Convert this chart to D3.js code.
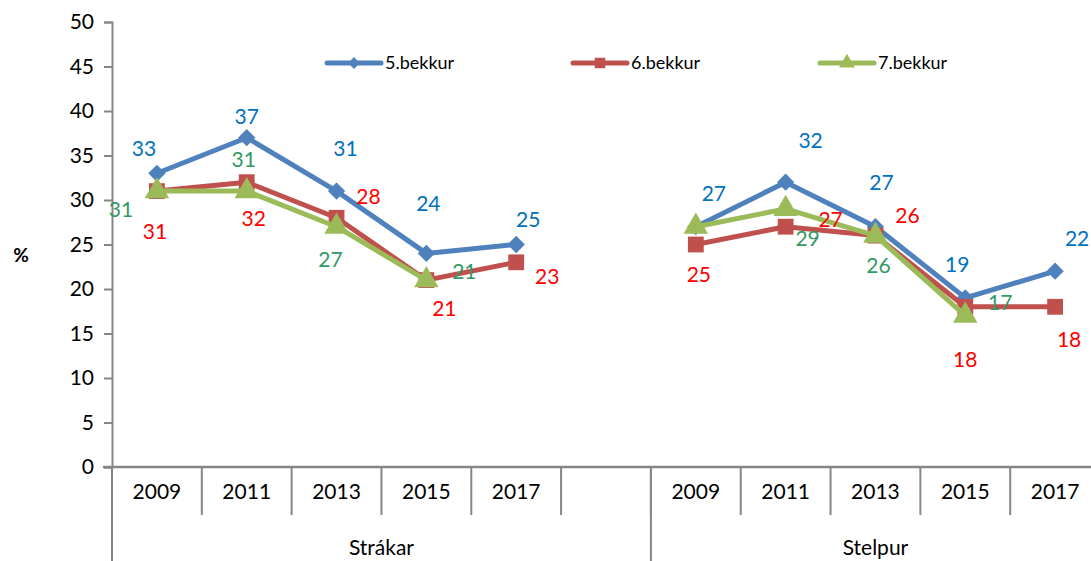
<!DOCTYPE html>
<html>
<head>
<meta charset="utf-8">
<script src="https://cdn.jsdelivr.net/npm/d3@7"></script>
<style>
  body { margin: 0; background: #fff; }
  svg { display: block; font-family: Lato, "Open Sans", sans-serif; }
</style>
</head>
<body>
<script>
// categories: 11 slots, one empty slot between the two groups
var years = ["2009", "2011", "2013", "2015", "2017", "", "2009", "2011", "2013", "2015", "2017"];
var groups = ["Strákar", "Stelpur"];
var groupSpans = [6, 5];

// series values (null = no point)
var bekkur5 = [33, 37, 31, 24, 25, null, 27, 32, 27, 19, 22];
var bekkur6 = [31, 32, 28, 21, 23, null, 25, 27, 26, 18, 18];
var bekkur7 = [31, 31, 27, 21, null, null, 27, 29, 26, 17, null];
var seriesNames = ["5.bekkur", "6.bekkur", "7.bekkur"];
var yTicks = [0, 5, 10, 15, 20, 25, 30, 35, 40, 45, 50];

// label nudges (px) for the hand placed Excel data labels, null = no label shown
var off5 = [[-13,-25],[0,-21],[9,-43],[2,-50],[12,-25],null,[18,-33],[25,-42],[6,-44],[-8,-33],[22,-33]];
var off6 = [[-2,40],[7,36],[32,-21],[18,28],[31,14],null,[3,30],[45,-7],[32,-20],[0,53],[14,33]];
var off7 = [[-36,18],[-3,-32],[-6,33],[38,-9],null,null,null,[22,30],[3,30],[35,-13],null];

var W = 1091, H = 561;
var margin = {left: 112, top: 22, bottom: 94};
var plotRight = 1100;   // last category runs past the picture edge
var y0 = H - margin.bottom;

var svg = d3.select("body").append("svg")
    .attr("width", W)
    .attr("height", H);

var x = d3.scaleBand()
    .domain(d3.range(years.length))
    .range([margin.left, plotRight]);

var y = d3.scaleLinear()
    .domain([0, 50])
    .range([y0, margin.top]);

var axisCol = "#868686";

// y axis
var yAxis = d3.axisLeft(y).tickValues(yTicks).tickSize(8).tickPadding(10);
var gy = svg.append("g")
    .attr("transform", "translate(" + margin.left + ",0)")
    .call(yAxis);
gy.select(".domain").attr("stroke", axisCol).attr("stroke-width", 2);
gy.selectAll(".tick line").attr("stroke", axisCol).attr("stroke-width", 2);
gy.selectAll(".tick text")
    .attr("font-size", "21px")
    .attr("fill", "#000")
    .attr("font-family", "Lato, sans-serif");

// x axis line
svg.append("line")
    .attr("x1", margin.left - 9).attr("x2", W)
    .attr("y1", y0).attr("y2", y0)
    .attr("stroke", axisCol).attr("stroke-width", 2.5);

// year dividers + labels
var bw = x.bandwidth();
svg.selectAll(".ydiv")
    .data(d3.range(1, years.length))
    .enter().append("line")
    .attr("x1", function(i) { return x(i); })
    .attr("x2", function(i) { return x(i); })
    .attr("y1", y0)
    .attr("y2", y0 + 48)
    .attr("stroke", axisCol).attr("stroke-width", 2);

svg.selectAll(".yearLabel")
    .data(years)
    .enter().append("text")
    .attr("x", function(d, i) { return x(i) + bw / 2; })
    .attr("y", y0 + 32)
    .attr("text-anchor", "middle")
    .attr("font-size", "21px")
    .text(function(d) { return d; });

// group dividers + labels
var starts = [0, groupSpans[0]];
svg.selectAll(".gdiv")
    .data(starts)
    .enter().append("line")
    .attr("x1", function(s) { return x(s); })
    .attr("x2", function(s) { return x(s); })
    .attr("y1", y0)
    .attr("y2", H)
    .attr("stroke", axisCol).attr("stroke-width", 2);

svg.selectAll(".groupLabel")
    .data(groups)
    .enter().append("text")
    .attr("x", function(d, i) { return x(starts[i]) + groupSpans[i] * bw / 2; })
    .attr("y", y0 + 88)
    .attr("text-anchor", "middle")
    .attr("font-size", "21px")
    .text(function(d) { return d; });

// % title
svg.append("text")
    .attr("x", 21).attr("y", 262)
    .attr("text-anchor", "middle")
    .attr("font-size", "19px")
    .attr("font-weight", "bold")
    .text("%");

var series = [
  {name: seriesNames[0], values: bekkur5, off: off5, color: "#4F81BD", label: "#0070C0", shape: "diamond"},
  {name: seriesNames[1], values: bekkur6, off: off6, color: "#C0504D", label: "#FF0000", shape: "square"},
  {name: seriesNames[2], values: bekkur7, off: off7, color: "#9BBB59", label: "#339966", shape: "triangle"}
];

// diamond = square turned 45 degrees, like the Excel marker
function markerPath(shape, size) {
  var t = shape === "triangle" ? d3.symbolTriangle : d3.symbolSquare;
  return d3.symbol().type(t).size(size)();
}
var markerSize = {diamond: 150, square: 250, triangle: 260};
var markerRot = {diamond: 45, square: 0, triangle: 0};

var line = d3.line()
    .defined(function(d) { return d != null; })
    .x(function(d, i) { return x(i) + bw / 2; })
    .y(function(d) { return y(d); });

series.forEach(function(s) {
  svg.append("path")
      .datum(s.values)
      .attr("fill", "none")
      .attr("stroke", s.color)
      .attr("stroke-width", 5)
      .attr("stroke-linejoin", "round")
      .attr("d", line);

  var pts = s.values.map(function(v, i) { return {v: v, i: i}; })
      .filter(function(d) { return d.v != null; });

  svg.selectAll(null)
      .data(pts)
      .enter().append("path")
      .attr("transform", function(d) {
        return "translate(" + (x(d.i) + bw / 2) + "," + y(d.v) + ") rotate(" + markerRot[s.shape] + ")";
      })
      .attr("d", markerPath(s.shape, markerSize[s.shape]))
      .attr("fill", s.color);
});

// data labels on top
series.forEach(function(s) {
  var pts = s.values.map(function(v, i) { return {v: v, i: i}; })
      .filter(function(d) { return d.v != null && s.off[d.i] != null; });
  svg.selectAll(null)
      .data(pts)
      .enter().append("text")
      .attr("x", function(d) { return x(d.i) + bw / 2 + s.off[d.i][0]; })
      .attr("y", function(d) { return y(d.v) + s.off[d.i][1]; })
      .attr("dy", "0.36em")
      .attr("text-anchor", "middle")
      .attr("font-size", "21px")
      .attr("fill", s.label)
      .text(function(d) { return d.v; });
});

// legend
var legX = [327, 573, 820];
var leg = svg.selectAll(".leg")
    .data(series)
    .enter().append("g")
    .attr("transform", function(d, i) { return "translate(" + legX[i] + ",63)"; });
leg.append("line")
    .attr("x1", 0).attr("x2", 54)
    .attr("stroke", function(d) { return d.color; })
    .attr("stroke-width", 5)
    .attr("stroke-linecap", "round");
leg.append("path")
    .attr("transform", function(d) { return "translate(27,0) rotate(" + markerRot[d.shape] + ")"; })
    .attr("d", function(d) { return markerPath(d.shape, d.shape === "diamond" ? 70 : 110); })
    .attr("fill", function(d) { return d.color; });
leg.append("text")
    .attr("x", 58)
    .attr("dy", "0.36em")
    .attr("font-size", "18px")
    .text(function(d) { return d.name; });
</script>
</body>
</html>
